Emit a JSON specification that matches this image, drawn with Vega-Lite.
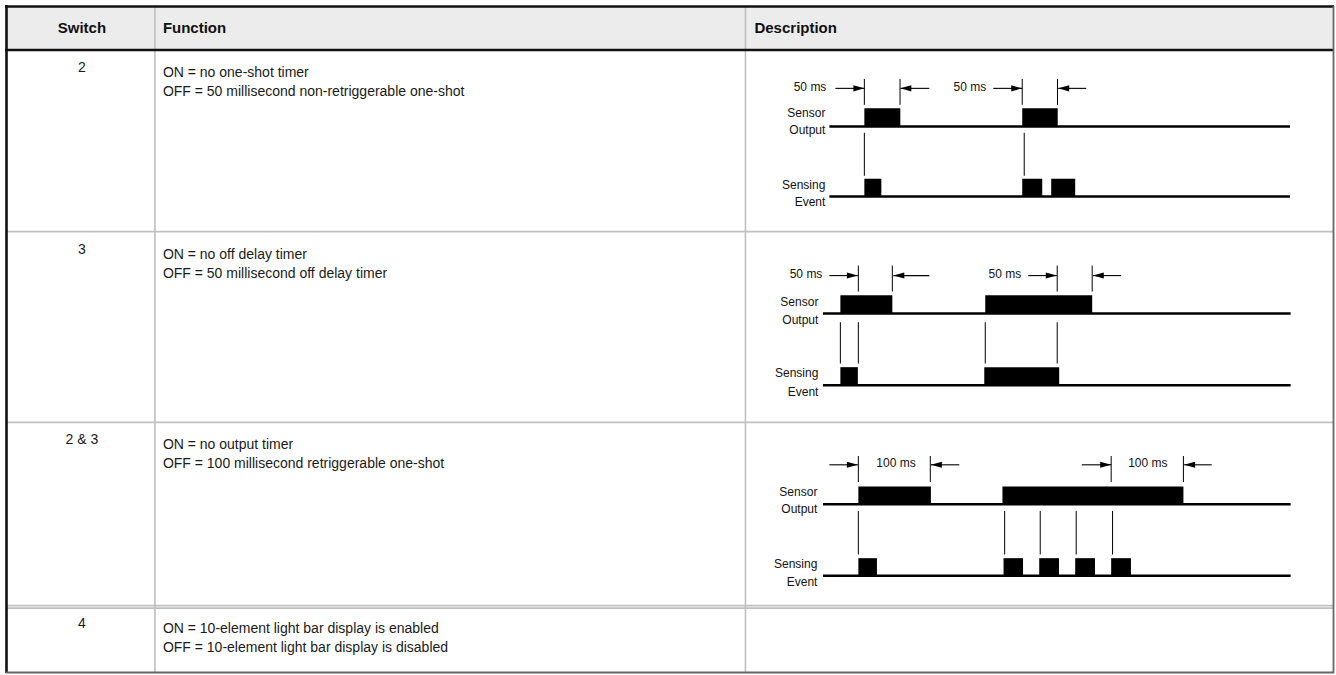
{
  "$schema": "https://vega.github.io/schema/vega-lite/v6.json",
  "width": 1336,
  "height": 675,
  "autosize": {"type": "fit", "contains": "padding"},
  "padding": 0,
  "background": "white",
  "config": {"view": {"stroke": null}},
  "datasets": {
    "boxes": [
      {"kind": "header", "x": 6, "x2": 1334, "y": 6, "y2": 50},
      {"kind": "pulse", "x": 865, "x2": 901, "y": 108.3, "y2": 126.7},
      {"kind": "pulse", "x": 1023, "x2": 1058.5, "y": 108.3, "y2": 126.7},
      {"kind": "pulse", "x": 865, "x2": 882, "y": 179, "y2": 196.7},
      {"kind": "pulse", "x": 1023, "x2": 1043, "y": 179, "y2": 196.7},
      {"kind": "pulse", "x": 1052, "x2": 1076, "y": 179, "y2": 196.7},
      {"kind": "pulse", "x": 841, "x2": 893, "y": 295.7, "y2": 314},
      {"kind": "pulse", "x": 986, "x2": 1093, "y": 295.7, "y2": 314},
      {"kind": "pulse", "x": 841, "x2": 858.5, "y": 367.7, "y2": 385.7},
      {"kind": "pulse", "x": 985, "x2": 1060, "y": 367.7, "y2": 385.7},
      {"kind": "pulse", "x": 859, "x2": 931.6, "y": 487.3, "y2": 505},
      {"kind": "pulse", "x": 1003.2, "x2": 1184.3, "y": 487.3, "y2": 505},
      {"kind": "pulse", "x": 859, "x2": 877.6, "y": 559, "y2": 576.7},
      {"kind": "pulse", "x": 1004.3, "x2": 1023.8, "y": 559, "y2": 576.7},
      {"kind": "pulse", "x": 1040, "x2": 1059.8, "y": 559, "y2": 576.7},
      {"kind": "pulse", "x": 1076, "x2": 1095.8, "y": 559, "y2": 576.7},
      {"kind": "pulse", "x": 1112, "x2": 1131.8, "y": 559, "y2": 576.7}
    ],
    "lines": [
      {"kind": "grid", "x": 155, "x2": 155, "y": 6, "y2": 673},
      {"kind": "grid", "x": 746, "x2": 746, "y": 6, "y2": 673},
      {"kind": "grid", "x": 6, "x2": 1334, "y": 232, "y2": 232},
      {"kind": "grid", "x": 6, "x2": 1334, "y": 423, "y2": 423},
      {"kind": "grid", "x": 6, "x2": 1334, "y": 606.5, "y2": 606.5},
      {"kind": "grid", "x": 6, "x2": 1334, "y": 609, "y2": 609},
      {"kind": "dark", "x": 5, "x2": 1335, "y": 6.5, "y2": 6.5},
      {"kind": "dark", "x": 5, "x2": 1335, "y": 50, "y2": 50},
      {"kind": "dark", "x": 6.5, "x2": 6.5, "y": 5, "y2": 674},
      {"kind": "edge", "x": 1334.5, "x2": 1334.5, "y": 6, "y2": 674},
      {"kind": "edge", "x": 6, "x2": 1335, "y": 673.5, "y2": 673.5},
      {"kind": "base", "x": 830, "x2": 1291, "y": 126.7, "y2": 126.7},
      {"kind": "base", "x": 830, "x2": 1291, "y": 196.7, "y2": 196.7},
      {"kind": "base", "x": 823.6, "x2": 1291.6, "y": 314, "y2": 314},
      {"kind": "base", "x": 823.6, "x2": 1291.6, "y": 385.7, "y2": 385.7},
      {"kind": "base", "x": 823.6, "x2": 1291.6, "y": 505, "y2": 505},
      {"kind": "base", "x": 823.6, "x2": 1291.6, "y": 576.7, "y2": 576.7},
      {"kind": "thin", "x": 865, "x2": 865, "y": 79, "y2": 105},
      {"kind": "thin", "x": 900.7, "x2": 900.7, "y": 79, "y2": 105},
      {"kind": "thin", "x": 1023, "x2": 1023, "y": 79, "y2": 105},
      {"kind": "thin", "x": 1058.3, "x2": 1058.3, "y": 79, "y2": 105},
      {"kind": "thin", "x": 865, "x2": 865, "y": 133, "y2": 176},
      {"kind": "thin", "x": 1025, "x2": 1025, "y": 133, "y2": 176},
      {"kind": "thin", "x": 859, "x2": 859, "y": 266, "y2": 292},
      {"kind": "thin", "x": 893, "x2": 893, "y": 266, "y2": 292},
      {"kind": "thin", "x": 1058, "x2": 1058, "y": 266, "y2": 292},
      {"kind": "thin", "x": 1093, "x2": 1093, "y": 266, "y2": 292},
      {"kind": "thin", "x": 841, "x2": 841, "y": 322.7, "y2": 364},
      {"kind": "thin", "x": 859, "x2": 859, "y": 322.7, "y2": 364},
      {"kind": "thin", "x": 986, "x2": 986, "y": 322.7, "y2": 364},
      {"kind": "thin", "x": 1058, "x2": 1058, "y": 322.7, "y2": 364},
      {"kind": "thin", "x": 859, "x2": 859, "y": 456.7, "y2": 482.7},
      {"kind": "thin", "x": 931, "x2": 931, "y": 456.7, "y2": 482.7},
      {"kind": "thin", "x": 1112, "x2": 1112, "y": 456.7, "y2": 482.7},
      {"kind": "thin", "x": 1184.3, "x2": 1184.3, "y": 456.7, "y2": 482.7},
      {"kind": "thin", "x": 859, "x2": 859, "y": 511.7, "y2": 555.3},
      {"kind": "thin", "x": 1005.4, "x2": 1005.4, "y": 511.7, "y2": 555.3},
      {"kind": "thin", "x": 1041, "x2": 1041, "y": 511.7, "y2": 555.3},
      {"kind": "thin", "x": 1077, "x2": 1077, "y": 511.7, "y2": 555.3},
      {"kind": "thin", "x": 1113.4, "x2": 1113.4, "y": 511.7, "y2": 555.3}
    ],
    "arrows": [
      {"dir": "right", "x": 836, "x2": 865, "y": 88.5},
      {"dir": "left", "x": 930, "x2": 901, "y": 88.5},
      {"dir": "right", "x": 994, "x2": 1023, "y": 88.5},
      {"dir": "left", "x": 1087, "x2": 1059, "y": 88.5},
      {"dir": "right", "x": 830, "x2": 858.5, "y": 276},
      {"dir": "left", "x": 930, "x2": 894, "y": 276},
      {"dir": "right", "x": 1029, "x2": 1057.6, "y": 276},
      {"dir": "left", "x": 1122, "x2": 1093.6, "y": 276},
      {"dir": "right", "x": 830, "x2": 858.5, "y": 465.5},
      {"dir": "left", "x": 960, "x2": 931.6, "y": 465.5},
      {"dir": "right", "x": 1082.6, "x2": 1112, "y": 465.5},
      {"dir": "left", "x": 1212.6, "x2": 1185, "y": 465.5}
    ],
    "texts": [
      {"kind": "headC", "x": 82, "y": 28, "label": "Switch"},
      {"kind": "head", "x": 163, "y": 28, "label": "Function"},
      {"kind": "head", "x": 755, "y": 28, "label": "Description"},
      {"kind": "num", "x": 82, "y": 68, "label": "2"},
      {"kind": "num", "x": 82, "y": 250, "label": "3"},
      {"kind": "num", "x": 82, "y": 441, "label": "2 & 3"},
      {"kind": "num", "x": 82, "y": 625, "label": "4"},
      {"kind": "func", "x": 163, "y": 73, "label": "ON = no one-shot timer"},
      {"kind": "func", "x": 163, "y": 92, "label": "OFF = 50 millisecond non-retriggerable one-shot"},
      {"kind": "func", "x": 163, "y": 255, "label": "ON = no off delay timer"},
      {"kind": "func", "x": 163, "y": 274, "label": "OFF = 50 millisecond off delay timer"},
      {"kind": "func", "x": 163, "y": 446, "label": "ON = no output timer"},
      {"kind": "func", "x": 163, "y": 465, "label": "OFF = 100 millisecond retriggerable one-shot"},
      {"kind": "func", "x": 163, "y": 630, "label": "ON = 10-element light bar display is enabled"},
      {"kind": "func", "x": 163, "y": 649, "label": "OFF = 10-element light bar display is disabled"},
      {"kind": "sig", "x": 826, "y": 113, "label": "Sensor"},
      {"kind": "sig", "x": 826, "y": 130, "label": "Output"},
      {"kind": "sig", "x": 826, "y": 185, "label": "Sensing"},
      {"kind": "sig", "x": 826, "y": 202, "label": "Event"},
      {"kind": "sig", "x": 819, "y": 302, "label": "Sensor"},
      {"kind": "sig", "x": 819, "y": 320, "label": "Output"},
      {"kind": "sig", "x": 819, "y": 374, "label": "Sensing"},
      {"kind": "sig", "x": 819, "y": 392.5, "label": "Event"},
      {"kind": "sig", "x": 818, "y": 493, "label": "Sensor"},
      {"kind": "sig", "x": 818, "y": 510, "label": "Output"},
      {"kind": "sig", "x": 818, "y": 565, "label": "Sensing"},
      {"kind": "sig", "x": 818, "y": 582.5, "label": "Event"},
      {"kind": "msR", "x": 827, "y": 87, "label": "50 ms"},
      {"kind": "msR", "x": 987, "y": 87, "label": "50 ms"},
      {"kind": "msR", "x": 823, "y": 274.5, "label": "50 ms"},
      {"kind": "msR", "x": 1022, "y": 274.5, "label": "50 ms"},
      {"kind": "msL", "x": 877, "y": 464, "label": "100 ms"},
      {"kind": "msL", "x": 1129, "y": 464, "label": "100 ms"}
    ]
  },
  "encoding": {
    "x": {"field": "x", "type": "quantitative", "scale": {"domain": [0, 1336], "nice": false, "zero": false}, "axis": null},
    "y": {"field": "y", "type": "quantitative", "scale": {"domain": [0, 675], "nice": false, "zero": false, "reverse": true}, "axis": null}
  },
  "layer": [
    {
      "data": {"name": "boxes"},
      "transform": [{"filter": "datum.kind === 'header'"}],
      "mark": {"type": "rect", "color": "#ececec"},
      "encoding": {"x2": {"field": "x2"}, "y2": {"field": "y2"}}
    },
    {
      "data": {"name": "lines"},
      "transform": [{"filter": "datum.kind === 'grid'"}],
      "mark": {"type": "rule", "color": "#bfbfbf", "strokeWidth": 1.6},
      "encoding": {"x2": {"field": "x2"}, "y2": {"field": "y2"}}
    },
    {
      "data": {"name": "lines"},
      "transform": [{"filter": "datum.kind === 'dark'"}],
      "mark": {"type": "rule", "color": "#111111", "strokeWidth": 2.6},
      "encoding": {"x2": {"field": "x2"}, "y2": {"field": "y2"}}
    },
    {
      "data": {"name": "lines"},
      "transform": [{"filter": "datum.kind === 'edge'"}],
      "mark": {"type": "rule", "color": "#666666", "strokeWidth": 1.8},
      "encoding": {"x2": {"field": "x2"}, "y2": {"field": "y2"}}
    },
    {
      "data": {"name": "lines"},
      "transform": [{"filter": "datum.kind === 'base'"}],
      "mark": {"type": "rule", "color": "#000000", "strokeWidth": 2.5},
      "encoding": {"x2": {"field": "x2"}, "y2": {"field": "y2"}}
    },
    {
      "data": {"name": "lines"},
      "transform": [{"filter": "datum.kind === 'thin'"}],
      "mark": {"type": "rule", "color": "#000000", "strokeWidth": 1},
      "encoding": {"x2": {"field": "x2"}, "y2": {"field": "y2"}}
    },
    {
      "data": {"name": "boxes"},
      "transform": [{"filter": "datum.kind === 'pulse'"}],
      "mark": {"type": "rect", "color": "#000000"},
      "encoding": {"x2": {"field": "x2"}, "y2": {"field": "y2"}}
    },
    {
      "data": {"name": "arrows"},
      "mark": {"type": "rule", "color": "#000000", "strokeWidth": 1.1},
      "encoding": {"x2": {"field": "x2"}}
    },
    {
      "data": {"name": "arrows"},
      "transform": [{"filter": "datum.dir === 'right'"}],
      "mark": {"type": "point", "filled": true, "color": "#000000", "opacity": 1, "shape": "M-2,-0.55L0,0L-2,0.55Z", "size": 121},
      "encoding": {
        "x": {"field": "x2", "type": "quantitative", "scale": {"domain": [0, 1336], "nice": false, "zero": false}, "axis": null}
      }
    },
    {
      "data": {"name": "arrows"},
      "transform": [{"filter": "datum.dir === 'left'"}],
      "mark": {"type": "point", "filled": true, "color": "#000000", "opacity": 1, "shape": "M2,-0.55L0,0L2,0.55Z", "size": 121},
      "encoding": {
        "x": {"field": "x2", "type": "quantitative", "scale": {"domain": [0, 1336], "nice": false, "zero": false}, "axis": null}
      }
    },
    {
      "data": {"name": "texts"},
      "transform": [{"filter": "datum.kind === 'headC'"}],
      "mark": {"type": "text", "align": "center", "baseline": "middle", "font": "Liberation Sans", "fontSize": 15, "fontWeight": "bold", "color": "#111111"},
      "encoding": {"text": {"field": "label"}}
    },
    {
      "data": {"name": "texts"},
      "transform": [{"filter": "datum.kind === 'head'"}],
      "mark": {"type": "text", "align": "left", "baseline": "middle", "font": "Liberation Sans", "fontSize": 15, "fontWeight": "bold", "color": "#111111"},
      "encoding": {"text": {"field": "label"}}
    },
    {
      "data": {"name": "texts"},
      "transform": [{"filter": "datum.kind === 'num'"}],
      "mark": {"type": "text", "align": "center", "baseline": "middle", "font": "Liberation Sans", "fontSize": 14, "color": "#1a1a1a"},
      "encoding": {"text": {"field": "label"}}
    },
    {
      "data": {"name": "texts"},
      "transform": [{"filter": "datum.kind === 'func'"}],
      "mark": {"type": "text", "align": "left", "baseline": "middle", "font": "Liberation Sans", "fontSize": 14, "color": "#1a1a1a"},
      "encoding": {"text": {"field": "label"}}
    },
    {
      "data": {"name": "texts"},
      "transform": [{"filter": "datum.kind === 'sig' || datum.kind === 'msR'"}],
      "mark": {"type": "text", "align": "right", "baseline": "middle", "font": "Liberation Sans", "fontSize": 12, "color": "#111111"},
      "encoding": {"text": {"field": "label"}}
    },
    {
      "data": {"name": "texts"},
      "transform": [{"filter": "datum.kind === 'msL'"}],
      "mark": {"type": "text", "align": "left", "baseline": "middle", "font": "Liberation Sans", "fontSize": 12, "color": "#111111"},
      "encoding": {"text": {"field": "label"}}
    }
  ]
}
